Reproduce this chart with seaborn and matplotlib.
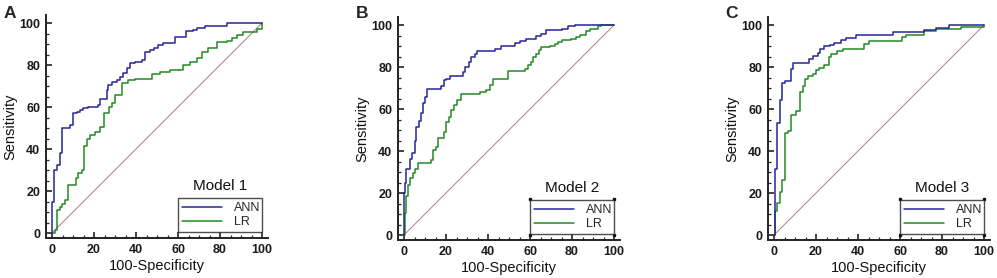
import numpy as np
import pandas as pd
import matplotlib
matplotlib.use("Agg")
import matplotlib.pyplot as plt
from matplotlib.lines import Line2D
import seaborn as sns

# ROC step points (100-specificity, sensitivity after each rise)
a_ann_x = [0, 0, 1.1, 2.2, 3.8, 4.9, 8.6, 9.8, 11.7, 13.3, 14.9, 17.3, 22, 23, 26, 26.8, 28.4, 30.8,
           32.4, 34, 35.6, 37, 39.5, 42.7, 44.3, 46.7, 48.6, 50.6, 53, 58.6, 63.8, 67.3, 68.9, 72.9, 83.5, 100]
a_ann_y = [0, 15, 30, 32.5, 38, 49.8, 51.4, 57, 57.8, 58.6, 59.4, 60.2, 61, 64, 68, 70.5, 72, 73,
           74.4, 76, 78.4, 80.8, 81.6, 82.4, 86.3, 87, 88.2, 89.5, 90.3, 93.5, 96.3, 96.7, 97.5, 98.7, 100, 100]
a_lr_x = [0, 1.2, 2.2, 3.8, 4.9, 6.2, 7.8, 11.4, 12.5, 14.1, 15.2, 16.5, 18.1, 20.5, 22.9, 24.8, 27.1,
          28.4, 30, 33.2, 36.3, 39.5, 47.5, 51.4, 56.2, 62.5, 65.7, 68.9, 71.3, 74.4, 78.4, 83.2, 85.6,
          87.9, 91.1, 97.5, 100]
a_lr_y = [0, 1.2, 11, 12.5, 14, 15.7, 22.9, 26, 28.4, 30, 41.4, 45, 46.7, 48.3, 50.6, 57, 60.2,
          61.7, 65.7, 71.6, 72.9, 73.2, 75.8, 76.8, 77.6, 80, 81.6, 83.2, 86.3, 87.9, 91, 91.4, 92.7,
          94.3, 95.9, 97.3, 100]

b_ann_x = [0, 0, 0.3, 1.1, 2.7, 3.8, 5, 5.9, 7.1, 7.9, 9.2, 10.2, 11.1, 17.5, 19, 20.2, 21.7, 28.1,
           29.2, 30.8, 32, 33.7, 34.9, 43.2, 46.3, 52.7, 55, 58, 63, 65.4, 67.8, 75, 78, 81.3, 100]
b_ann_y = [0, 20, 24.7, 31.5, 36.2, 39, 44.8, 51.6, 54.3, 58, 63, 65.8, 69.5, 71, 73.7, 74.5, 75.6, 77.7,
           80, 82.4, 84.8, 86.4, 87.7, 88.8, 90, 91.5, 92.6, 93.2, 94.8, 95.9, 97.5, 98.3, 99.4, 100, 100]
b_lr_x = [0, 0.3, 1.1, 1.9, 3, 4.3, 5.4, 6.7, 12.7, 13.8, 15.4, 16.2, 19, 19.8, 21.3, 22.5, 23.8, 25.4,
          27, 36, 39.2, 40.8, 42.4, 49.5, 57.5, 59, 60.6, 61.4, 63, 64.1, 65.4, 69.4, 71.7, 73.3, 75,
          79.7, 82, 83.7, 86.8, 88.4, 92.4, 93.7, 100]
b_lr_y = [0, 10.4, 18.4, 23.9, 27, 29.4, 31.5, 34.2, 35.8, 40.5, 42, 46, 49.2, 54, 56.3, 59.5, 61.9, 64.2,
          67, 67.9, 69, 71.4, 74.5, 78, 79.3, 80.9, 82.4, 84.8, 86.4, 88, 89.6, 90, 91.1, 91.9, 92.7,
          93.5, 94.3, 95.4, 97, 98.3, 99.4, 100, 100]

c_ann_x = [0, 0.3, 1.4, 2.7, 3.9, 5.4, 7.9, 9, 16.6, 18.5, 20.8, 22.1, 23.7, 26.9, 28.7, 31.9, 34.3,
           39, 56.5, 71.4, 77, 83.4, 100]
c_ann_y = [0, 31.5, 53.5, 64.2, 72.2, 73.4, 79, 82.1, 84, 85.3, 86.9, 88.8, 89.9, 90.7, 91.6, 92.7, 94,
           95.1, 96.7, 97.8, 98.6, 100, 100]
c_lr_x = [0, 0.3, 1.4, 2.7, 3.9, 5.4, 6.6, 7.9, 10.6, 12.6, 13.7, 14.8, 16.1, 18.5, 20, 21.6, 24, 26,
          27.2, 30, 33, 43, 45, 61, 63, 71.5, 77, 89, 100]
c_lr_y = [0, 11.2, 15.2, 20.7, 26.3, 48.4, 49.5, 57.1, 59, 67.9, 71, 74.5, 75.6, 76.9, 78.5, 79.6, 81, 84.8,
          86, 87.5, 88.5, 91, 92.2, 94.2, 95.3, 97.3, 98.3, 99.3, 100]

panels = ["A", "B", "C"]
models = ["Model 1", "Model 2", "Model 3"]
curves = [(a_ann_x, a_ann_y, a_lr_x, a_lr_y),
          (b_ann_x, b_ann_y, b_lr_x, b_lr_y),
          (c_ann_x, c_ann_y, c_lr_x, c_lr_y)]
diag = [0, 100]

sns.set_style("ticks")
plt.rcParams["font.family"] = ["Liberation Sans", "DejaVu Sans"]

blue = "#26269a"
green = "#228a22"
diag_col = "#b07a7a"

fig = plt.figure(figsize=(9.97, 2.78), dpi=100)
lefts = [45.7, 397.7, 767.7]
bottoms = [238.25, 240.25, 240.25]

for i in range(3):
    ax = fig.add_axes([lefts[i] / 997, 1 - bottoms[i] / 278, 222.6 / 997, 223.6 / 278])
    ax_x, ax_y, lr_x, lr_y = curves[i]
    sns.lineplot(x=diag, y=diag, ax=ax, color=diag_col, lw=0.7, estimator=None, sort=False)
    sns.lineplot(x=lr_x, y=lr_y, ax=ax, color=green, lw=1.1, drawstyle="steps-post",
                 estimator=None, sort=False)
    sns.lineplot(x=ax_x, y=ax_y, ax=ax, color=blue, lw=1.1, drawstyle="steps-post",
                 estimator=None, sort=False)
    ax.set_xlim(-3, 103)
    ax.set_ylim(-2.5, 104)
    ax.set_xticks(range(0, 101, 20))
    ax.set_yticks(range(0, 101, 20))
    ax.set_xticks(range(0, 101, 5), minor=True)
    ax.set_yticks(range(0, 101, 5), minor=True)
    ax.tick_params(which="major", direction="in", length=4, width=1.2, labelsize=9, pad=4,
                   color="#222222")
    ax.tick_params(which="minor", direction="in", length=2.2, width=0.9, color="#222222")
    for lab in ax.get_xticklabels() + ax.get_yticklabels():
        lab.set_fontweight("bold")
        lab.set_color("#1a1a1a")
    for s in ["top", "right"]:
        ax.spines[s].set_visible(False)
    for s in ["left", "bottom"]:
        ax.spines[s].set_linewidth(1.4)
        ax.spines[s].set_color("#222222")
    ax.set_xlabel("100-Specificity", fontsize=10.5, color="#111111", labelpad=2)
    ax.set_ylabel("Sensitivity", fontsize=10.5, color="#111111", labelpad=1)

    handles = [Line2D([], [], color=blue, lw=1.1), Line2D([], [], color=green, lw=1.1)]
    leg = ax.legend(handles, ["ANN", "LR"], loc="center", bbox_to_anchor=(60, 0, 40, 17),
                    bbox_transform=ax.transData, mode="expand", frameon=True, fancybox=False,
                    fontsize=9, handlelength=3.2, borderpad=0.3, labelspacing=0.15,
                    handletextpad=1.0, borderaxespad=0)
    leg.get_frame().set_edgecolor("#222222")
    leg.get_frame().set_linewidth(1.0)
    ax.text(80, 19, models[i], fontsize=11, ha="center", va="bottom", color="#111111")
    if i > 0:
        ax.plot([60, 100, 60, 100], [0, 0, 17, 17], "s", color="#111111", ms=2, clip_on=False)

    fig.text((lefts[i] - 36) / 997, 1 - 13 / 278, panels[i], fontsize=12.5, fontweight="bold",
             ha="center", va="center")

fig.savefig("out.png", dpi=100)
